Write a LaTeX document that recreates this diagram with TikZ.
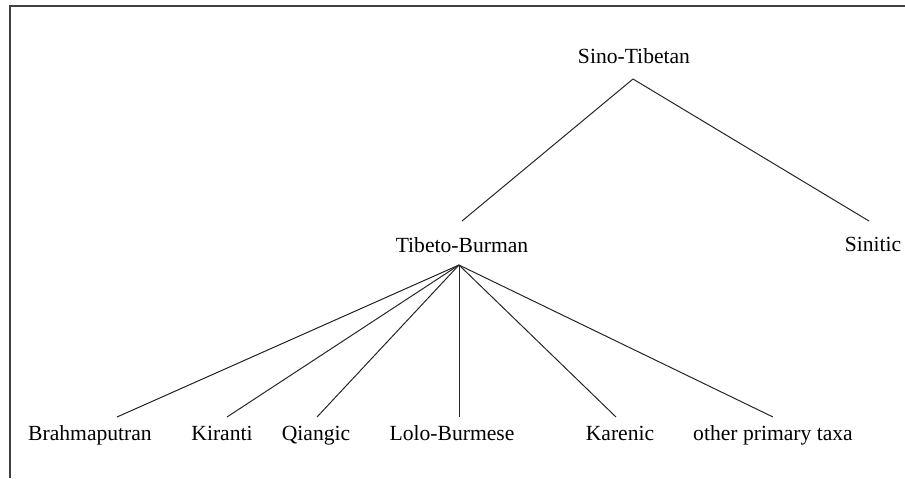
\documentclass[tikz,border=0pt]{standalone}
\usepackage{fontspec}
\setmainfont{Liberation Serif}
\begin{document}
\begin{tikzpicture}[x=0.5pt,y=-0.5pt,
  lab/.style={anchor=base,inner sep=0pt,font=\fontsize{10.8}{12}\selectfont},
  edge/.style={line width=0.5pt,black!85},
  frame/.style={line width=0.8pt,black!75}]
\useasboundingbox (0,0) rectangle (905,478);
\draw[frame] (905,6) -- (10,6) -- (10,478);
\node[lab] (st) at (634,63) {Sino-Tibetan};
\node[lab] (tb) at (462,252) {Tibeto-Burman};
\node[lab] (sn) at (873,251) {Sinitic};
\node[lab] (br) at (90,440) {Brahmaputran};
\node[lab] (ki) at (222,440) {Kiranti};
\node[lab] (qi) at (316,440) {Qiangic};
\node[lab] (lb) at (452,440) {Lolo-Burmese};
\node[lab] (ka) at (620,440) {Karenic};
\node[lab] (ot) at (773,440) {other primary taxa};
\draw[edge] ([xshift=-0.5pt,yshift=-8pt]st.base) -- ([yshift=15.5pt]tb.base);
\draw[edge] ([xshift=-0.5pt,yshift=-8pt]st.base) -- ([xshift=-2pt,yshift=15pt]sn.base);
\foreach \n/\dx in {br/13.5,ki/2.5,qi/0.5,lb/3.5,ka/-2,ot/0}
  \draw[edge] ([xshift=-1.5pt,yshift=-6.5pt]tb.base) -- ([xshift=\dx pt,yshift=11.5pt]\n.base);
\end{tikzpicture}
\end{document}
